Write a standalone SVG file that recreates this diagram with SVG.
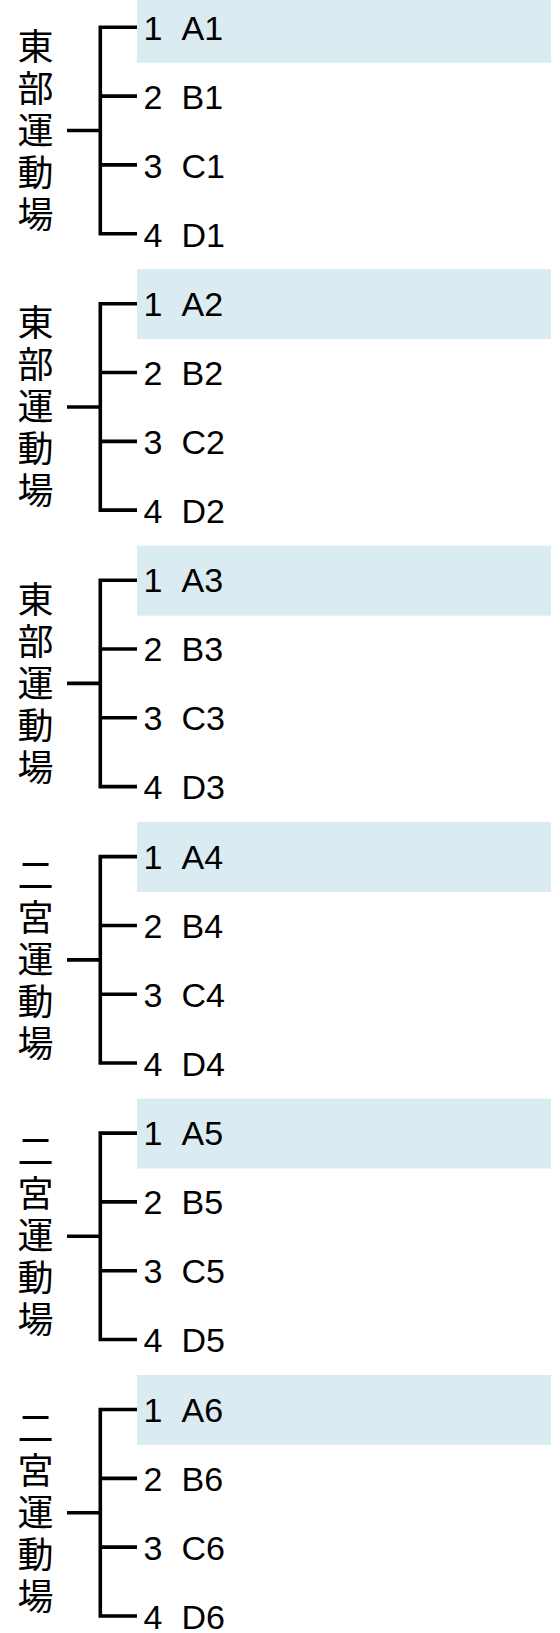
<svg xmlns="http://www.w3.org/2000/svg" width="560" height="1633" viewBox="0 0 560 1633">
<style>
.bg{fill:#ffffff}
.hl{fill:#DAECF2}
.it{font-family:"Liberation Sans",Arial,sans-serif;font-size:34px;fill:#000}
.lb{font-family:"Noto Sans CJK JP","Noto Sans CJK SC",sans-serif;font-size:36px;fill:#000;writing-mode:vertical-rl;letter-spacing:6px}
.cn{fill:none;stroke:#000;stroke-width:3.6;stroke-linejoin:miter;stroke-linecap:butt}
</style>
<defs>
<g id="br">
<path d="M67,130.5 H100.3"/>
<path d="M137,27.3 H100.3 V233.7 H137"/>
<path d="M100.3,96.1 H137"/>
<path d="M100.3,164.9 H137"/>
</g>
</defs>
<rect class="bg" x="0" y="0" width="560" height="1633"/>

<g id="connectors" class="cn">
<use href="#br" transform="translate(0,0)"/>
<use href="#br" transform="translate(0,276.45)"/>
<use href="#br" transform="translate(0,552.9)"/>
<use href="#br" transform="translate(0,829.35)"/>
<use href="#br" transform="translate(0,1105.8)"/>
<use href="#br" transform="translate(0,1382.25)"/>
</g>

<g id="block1" transform="translate(0,0)">
<g id="b1-label"><text class="lb" x="35.5" y="28">東部運動場</text></g>
<g id="b1-i1"><rect class="hl" x="137" y="-7.3" width="414" height="70"/><text class="it" x="143.5" y="39.5">1 <tspan x="181.5">A1</tspan></text></g>
<g id="b1-i2"><text class="it" x="143.5" y="108.5">2 <tspan x="181.5">B1</tspan></text></g>
<g id="b1-i3"><text class="it" x="143.5" y="177.5">3 <tspan x="181.5">C1</tspan></text></g>
<g id="b1-i4"><text class="it" x="143.5" y="246.5">4 <tspan x="181.5">D1</tspan></text></g>
</g>

<g id="block2" transform="translate(0,276.45)">
<g id="b2-label"><text class="lb" x="35.5" y="28">東部運動場</text></g>
<g id="b2-i1"><rect class="hl" x="137" y="-7.3" width="414" height="70"/><text class="it" x="143.5" y="39.5">1 <tspan x="181.5">A2</tspan></text></g>
<g id="b2-i2"><text class="it" x="143.5" y="108.5">2 <tspan x="181.5">B2</tspan></text></g>
<g id="b2-i3"><text class="it" x="143.5" y="177.5">3 <tspan x="181.5">C2</tspan></text></g>
<g id="b2-i4"><text class="it" x="143.5" y="246.5">4 <tspan x="181.5">D2</tspan></text></g>
</g>

<g id="block3" transform="translate(0,552.9)">
<g id="b3-label"><text class="lb" x="35.5" y="28">東部運動場</text></g>
<g id="b3-i1"><rect class="hl" x="137" y="-7.3" width="414" height="70"/><text class="it" x="143.5" y="39.5">1 <tspan x="181.5">A3</tspan></text></g>
<g id="b3-i2"><text class="it" x="143.5" y="108.5">2 <tspan x="181.5">B3</tspan></text></g>
<g id="b3-i3"><text class="it" x="143.5" y="177.5">3 <tspan x="181.5">C3</tspan></text></g>
<g id="b3-i4"><text class="it" x="143.5" y="246.5">4 <tspan x="181.5">D3</tspan></text></g>
</g>

<g id="block4" transform="translate(0,829.35)">
<g id="b4-label"><text class="lb" x="35.5" y="28">二宮運動場</text></g>
<g id="b4-i1"><rect class="hl" x="137" y="-7.3" width="414" height="70"/><text class="it" x="143.5" y="39.5">1 <tspan x="181.5">A4</tspan></text></g>
<g id="b4-i2"><text class="it" x="143.5" y="108.5">2 <tspan x="181.5">B4</tspan></text></g>
<g id="b4-i3"><text class="it" x="143.5" y="177.5">3 <tspan x="181.5">C4</tspan></text></g>
<g id="b4-i4"><text class="it" x="143.5" y="246.5">4 <tspan x="181.5">D4</tspan></text></g>
</g>

<g id="block5" transform="translate(0,1105.8)">
<g id="b5-label"><text class="lb" x="35.5" y="28">二宮運動場</text></g>
<g id="b5-i1"><rect class="hl" x="137" y="-7.3" width="414" height="70"/><text class="it" x="143.5" y="39.5">1 <tspan x="181.5">A5</tspan></text></g>
<g id="b5-i2"><text class="it" x="143.5" y="108.5">2 <tspan x="181.5">B5</tspan></text></g>
<g id="b5-i3"><text class="it" x="143.5" y="177.5">3 <tspan x="181.5">C5</tspan></text></g>
<g id="b5-i4"><text class="it" x="143.5" y="246.5">4 <tspan x="181.5">D5</tspan></text></g>
</g>

<g id="block6" transform="translate(0,1382.25)">
<g id="b6-label"><text class="lb" x="35.5" y="28">二宮運動場</text></g>
<g id="b6-i1"><rect class="hl" x="137" y="-7.3" width="414" height="70"/><text class="it" x="143.5" y="39.5">1 <tspan x="181.5">A6</tspan></text></g>
<g id="b6-i2"><text class="it" x="143.5" y="108.5">2 <tspan x="181.5">B6</tspan></text></g>
<g id="b6-i3"><text class="it" x="143.5" y="177.5">3 <tspan x="181.5">C6</tspan></text></g>
<g id="b6-i4"><text class="it" x="143.5" y="246.5">4 <tspan x="181.5">D6</tspan></text></g>
</g>
</svg>
